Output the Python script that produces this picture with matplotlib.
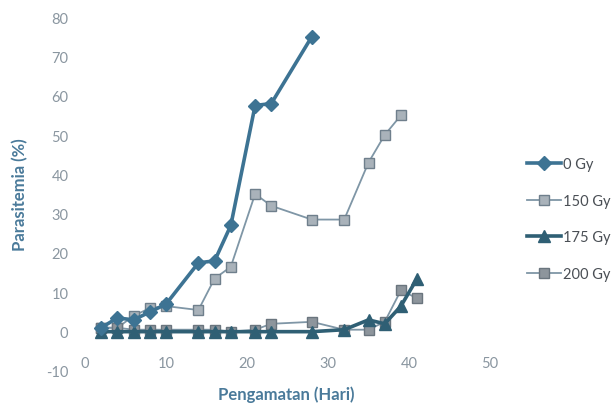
import matplotlib
matplotlib.use("Agg")
import matplotlib.pyplot as plt

days_0 = [2, 4, 6, 8, 10, 14, 16, 18, 21, 23, 28]
vals_0 = [1, 3.5, 3, 5, 7, 17.5, 18, 27, 57.5, 58, 75]

days_150 = [2, 4, 6, 8, 10, 14, 16, 18, 21, 23, 28, 32, 35, 37, 39]
vals_150 = [1, 1, 4, 6, 6.5, 5.5, 13.5, 16.5, 35, 32, 28.5, 28.5, 43, 50, 55]

days_175 = [2, 4, 6, 8, 10, 14, 16, 18, 21, 23, 28, 32, 35, 37, 39, 41]
vals_175 = [0, 0, 0, 0, 0, 0, 0, 0, 0, 0, 0, 0.5, 3, 2, 6.5, 13.5]

days_200 = [2, 4, 6, 8, 10, 14, 16, 18, 21, 23, 28, 32, 35, 37, 39, 41]
vals_200 = [1, 1, 0.5, 0.5, 0.5, 0.5, 0.5, 0, 0.5, 2, 2.5, 0.5, 0.5, 2.5, 10.5, 8.5]

labels = ["0 Gy", "150 Gy", "175 Gy", "200 Gy"]
xticks = [0, 10, 20, 30, 40, 50]
yticks = [-10, 0, 10, 20, 30, 40, 50, 60, 70, 80]

plt.rcParams['font.family'] = ['Lato', 'DejaVu Sans']
plt.rcParams['axes.unicode_minus'] = False

fig = plt.figure(figsize=(6.16, 4.14), dpi=100)
ax = fig.add_axes([85/616, 1-372/414, 405/616, 354/414])

ax.plot(days_150, vals_150, color='#7f96a6', lw=1.3, marker='s', ms=7,
        mfc='#a9b2ba', mec='#6f7f8c', mew=1.0, label=labels[1], zorder=3)
ax.plot(days_200, vals_200, color='#7f96a6', lw=1.3, marker='s', ms=7,
        mfc='#8d959c', mec='#6a757e', mew=1.0, label=labels[3], zorder=3)
ax.plot(days_175, vals_175, color='#2f5f74', lw=2.6, marker='^', ms=8,
        mfc='#2f5f74', mec='#2f5f74', label=labels[2], zorder=4)
ax.plot(days_0, vals_0, color='#3d7393', lw=2.6, marker='D', ms=7,
        mfc='#3d7393', mec='#3d7393', label=labels[0], zorder=5)

ax.set_xlim(0, 50)
ax.set_ylim(-10, 80)
for s in ax.spines.values():
    s.set_visible(False)
ax.set_xticks(xticks)
ax.set_yticks(yticks)
ax.tick_params(length=0, labelsize=10.5, labelcolor='#8a96a0')
ax.tick_params(axis='y', pad=12)
ax.tick_params(axis='x', pad=-11)

ax.set_ylabel('Parasitemia (%)', fontsize=12, color='#4a7a9a', fontweight='bold')
ax.yaxis.set_label_coords((28 - 85) / 405, 0.5)
fig.text(286/616, 1-395/414, 'Pengamatan (Hari)', fontsize=12, color='#4a7a9a',
         fontweight='bold', ha='center', va='center')

h, l = ax.get_legend_handles_labels()
order = [l.index(x) for x in labels]
leg = fig.legend([h[i] for i in order], [l[i] for i in order], loc='center left',
                 bbox_to_anchor=(527/616, 1-220/414), frameon=False, fontsize=10.5,
                 labelspacing=1.55, handlelength=2.3, handletextpad=0.2,
                 borderpad=0, borderaxespad=0)
for t in leg.get_texts():
    t.set_color('#4a4f55')

fig.savefig('out.png', dpi=100)
